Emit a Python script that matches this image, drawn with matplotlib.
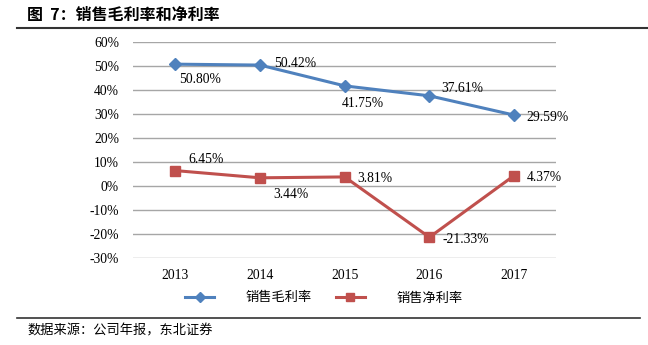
import matplotlib
matplotlib.use("Agg")
import matplotlib.pyplot as plt
from matplotlib.lines import Line2D

plt.rcParams['font.family'] = ['Liberation Serif', 'Noto Sans CJK SC']

years = ["2013", "2014", "2015", "2016", "2017"]
gross_margin = [50.80, 50.42, 41.75, 37.61, 29.59]
net_margin = [6.45, 3.44, 3.81, -21.33, 4.37]
y_ticks = [-30, -20, -10, 0, 10, 20, 30, 40, 50, 60]

blue = '#4F81BD'
red = '#C0504D'
cjk = ['Noto Sans CJK SC', 'DejaVu Sans']

fig = plt.figure(figsize=(6.48, 3.45), dpi=100)
ax = fig.add_axes([0.2052, 0.252, 0.6535, 0.626])

x = list(range(len(years)))
ax.plot(x, gross_margin, color=blue, lw=2.2, marker='D', ms=6, zorder=3)
ax.plot(x, net_margin, color=red, lw=2.2, marker='s', ms=7, zorder=3)

# label offsets in points (dx, dy)
gross_off = [(18, -11), (25, 1), (13, -13), (24, 5), (24, -1.5)]
net_off = [(22, 8), (22, -12), (22, -1), (26, -1.5), (22, -1.5)]
for i in x:
    ax.annotate("%.2f%%" % gross_margin[i], (i, gross_margin[i]),
                xytext=gross_off[i], textcoords='offset points',
                ha='center', va='center', fontsize=9.8)
    ax.annotate("%.2f%%" % net_margin[i], (i, net_margin[i]),
                xytext=net_off[i], textcoords='offset points',
                ha='center', va='center', fontsize=9.8)

ax.set_xlim(-0.5, 4.5)
ax.set_ylim(-30, 60)
ax.set_yticks(y_ticks)
ax.set_yticklabels(["%d%%" % t for t in y_ticks], fontsize=9.8)
ax.set_xticks(x)
ax.set_xticklabels(years, fontsize=9.8)
ax.tick_params(length=0, pad=10)
ax.tick_params(axis='x', pad=8)
ax.grid(axis='y', color='#A6A6A6', lw=1)
ax.set_axisbelow(True)
for s in ax.spines.values():
    s.set_visible(False)

handles = [Line2D([], [], color=blue, lw=2.2, marker='D', ms=5),
           Line2D([], [], color=red, lw=2.2, marker='s', ms=6)]
leg = fig.legend(handles, ["销售毛利率", "销售净利率"], loc='center',
                 bbox_to_anchor=(0.5, 1 - 298 / 345), ncol=2, frameon=False,
                 handlelength=2.2, handletextpad=2.4, columnspacing=1.8,
                 prop={'family': cjk, 'size': 9.5})

fig.text(27 / 648, 1 - 15 / 345, "图  7：销售毛利率和净利率", fontsize=11.5,
         fontweight='bold', family=cjk, ha='left', va='center')
fig.add_artist(Line2D([17 / 648, 1.0], [1 - 28 / 345, 1 - 28 / 345],
                      color='#333333', lw=1.5))
fig.add_artist(Line2D([17 / 648, 640 / 648], [1 - 318 / 345, 1 - 318 / 345],
                      color='#333333', lw=1.2))
fig.text(27 / 648, 1 - 331 / 345, "数据来源：公司年报，东北证券", fontsize=9.5,
         family=cjk, ha='left', va='center')

fig.savefig("out.png", dpi=100)
